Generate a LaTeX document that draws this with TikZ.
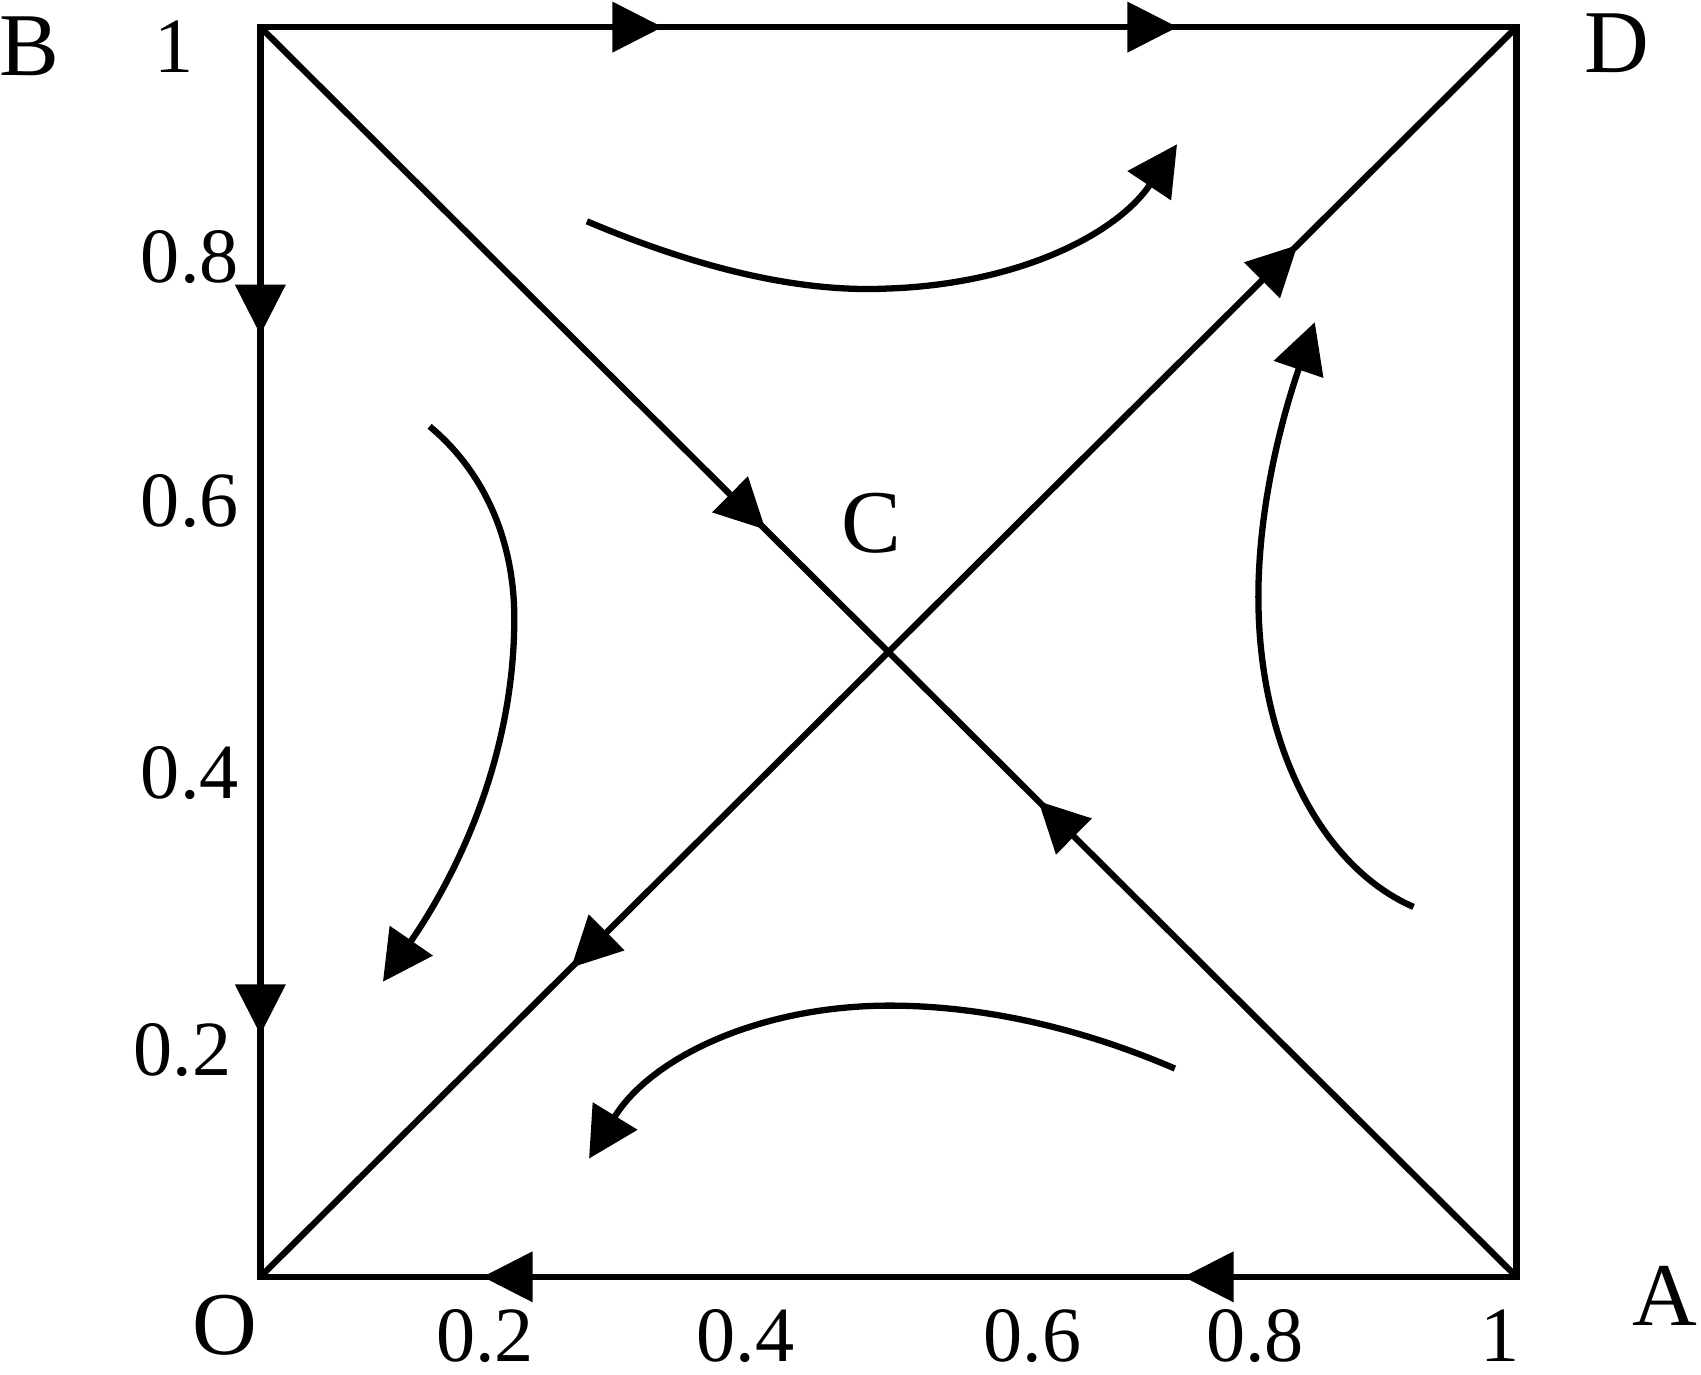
\documentclass[tikz,border=0pt]{standalone}
\usepackage{fontspec}
\setmainfont{Liberation Serif}
\usetikzlibrary{arrows.meta}
\begin{document}
\begin{tikzpicture}[x=0.01cm,y=-0.01cm,
  edge/.style={line width=1.65pt, line join=miter},
  flow/.style={line width=1.65pt, -{Triangle[length=0.46cm,width=0.47cm]}},
  tri/.pic={\fill (0,0) -- (-46,23.5) -- (-46,-23.5) -- cycle;},
  midtip/.style={sloped, allow upside down},
  lab/.style={font=\fontsize{23.5}{28}\selectfont, inner sep=0pt},
  num/.style={font=\fontsize{20.5}{24}\selectfont, inner sep=0pt}]
\useasboundingbox (0,0) rectangle (1568,1267);
% corners
\coordinate (O) at (240,1177);
\coordinate (A) at (1398,1177);
\coordinate (D) at (1398,25);
\coordinate (B) at (240,25);
\coordinate (C) at (819,601);
% square
\draw[edge] (O) -- (A) -- (D) -- (B) -- cycle;
% diagonals
\draw[edge] (B) -- (A);
\draw[edge] (O) -- (D);
% arrowheads on the edges
\path (B) -- (D) pic[midtip, pos=0.320]{tri} pic[midtip, pos=0.730]{tri};
\path (B) -- (O) pic[midtip, pos=0.246]{tri} pic[midtip, pos=0.806]{tri};
\path (A) -- (O) pic[midtip, pos=0.265]{tri} pic[midtip, pos=0.823]{tri};
\path (B) -- (C) pic[midtip, pos=0.804]{tri};
\path (A) -- (C) pic[midtip, pos=0.761]{tri};
\path (C) -- (D) pic[midtip, pos=0.651]{tri};
\path (C) -- (O) pic[midtip, pos=0.505]{tri};
% curved flow lines
\coordinate (t0) at (541,204);
\coordinate (t1) at (1085,133);
\draw[flow] (t0) .. controls (640,246) and (735,270) .. (818,266)
  .. controls (940,262) and (1030,215) .. (t1);
\coordinate (l0) at (396,393);
\coordinate (l1) at (353,905);
\draw[flow] (l0) .. controls (450,438) and (476,505) .. (474,578)
  .. controls (472,700) and (422,805) .. (l1);
\coordinate (b0) at (1083,985);
\coordinate (b1) at (543,1068);
\draw[flow] (b0) .. controls (990,945) and (900,927) .. (820,927)
  .. controls (700,927) and (600,975) .. (b1);
\coordinate (r0) at (1303,836);
\coordinate (r1) at (1212,297);
\draw[flow] (r0) .. controls (1220,800) and (1160,690) .. (1160,550)
  .. controls (1160,470) and (1180,390) .. (r1);
% letters
\node[lab] (labB) at (27,43) {B};
\node[lab] (labD) at (1490,40) {D};
\node[lab] (labA) at (1535,1195) {A};
\node[lab] (labO) at (207,1222) {O};
\node[lab] (labC) at (803,482) {C};
% tick labels
\node[num] (y10) at (160,43) {1};
\node[num] (y08) at (175,237) {0.8};
\node[num] (y06) at (175,462) {0.6};
\node[num] (y04) at (175,713) {0.4};
\node[num] (y02) at (168,968) {0.2};
\node[num] (x02) at (447,1232) {0.2};
\node[num] (x04) at (687,1232) {0.4};
\node[num] (x06) at (952,1232) {0.6};
\node[num] (x08) at (1157,1232) {0.8};
\node[num] (x10) at (1383,1231) {1};
\end{tikzpicture}
\end{document}
